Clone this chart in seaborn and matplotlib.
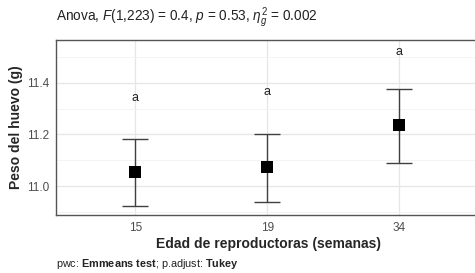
import numpy as np
import pandas as pd
import matplotlib
matplotlib.use("Agg")
import matplotlib.pyplot as plt
import seaborn as sns

# ── Data ─────────────────────────────────────────────────────
ages   = ["15", "19", "34"]
means  = [11.053, 11.072, 11.235]
lower  = [10.922, 10.940, 11.088]
upper  = [11.181, 11.200, 11.377]
letters = ["a", "a", "a"]
letter_y = [11.342, 11.363, 11.520]

sns.set_theme(style="whitegrid")
plt.rcParams["font.family"] = ["Liberation Sans", "DejaVu Sans"]
plt.rcParams["mathtext.fontset"] = "custom"
plt.rcParams["mathtext.rm"] = "Liberation Sans"
plt.rcParams["mathtext.it"] = "Liberation Sans:italic"
plt.rcParams["mathtext.bf"] = "Liberation Sans:bold"

df = pd.DataFrame({"edad": ages, "peso": means})

fig = plt.figure(figsize=(4.75, 2.73), dpi=100)
# panel runs past the right edge of the picture (cropped in the reference)
ax = fig.add_axes([56 / 475, 58 / 273, 424 / 475, 175 / 273])

# error bars first, then the square means on top
pos = np.arange(len(ages))
yerr = [np.array(means) - np.array(lower), np.array(upper) - np.array(means)]
ax.errorbar(pos, means, yerr=yerr, fmt="none", ecolor="#404040",
            elinewidth=1.0, capsize=9.5, capthick=1.0, zorder=2)
sns.scatterplot(data=df, x="edad", y="peso", marker="s", s=70,
                color="black", edgecolor="black", linewidth=0, ax=ax, zorder=3)

for i, (lab, yy) in enumerate(zip(letters, letter_y)):
    ax.text(i, yy, lab, ha="center", va="center", fontsize=9, color="#222222")

ax.set_xlim(-0.6, 2.61)
ax.set_ylim(10.888, 11.565)
ax.set_yticks([11.0, 11.2, 11.4])
ax.set_yticklabels(["11.0", "11.2", "11.4"])
ax.set_yticks([10.9, 11.1, 11.3, 11.5], minor=True)

# theme_bw-like grid and border
ax.grid(True, which="major", color="#e6e6e6", linewidth=0.9)
ax.grid(True, which="minor", axis="y", color="#f2f2f2", linewidth=0.6)
ax.set_axisbelow(True)
for sp in ax.spines.values():
    sp.set_color("#555555")
    sp.set_linewidth(1.0)
ax.spines["right"].set_visible(False)
ax.tick_params(axis="both", which="major", length=3, width=0.8, color="#555555",
               labelsize=8.5, labelcolor="#4d4d4d", pad=2)
ax.tick_params(axis="y", which="minor", length=0)

ax.set_xlabel("Edad de reproductoras (semanas)", fontsize=10, fontweight="bold",
              labelpad=2)
ax.set_ylabel("Peso del huevo (g)", fontsize=10, fontweight="bold", labelpad=3)

fig.text(56 / 475, 1 - 18 / 273,
         r"Anova, $\it{F}$(1,223) = 0.4, $\it{p}$ = 0.53, $\eta^2_g$ = 0.002",
         ha="left", va="center", fontsize=9.8, color="#222222")
fig.text(56 / 475, 1 - 264 / 273,
         r"pwc: $\bf{Emmeans\ test}$; p.adjust: $\bf{Tukey}$",
         ha="left", va="center", fontsize=7.8, color="#222222")

plt.savefig("out.png", dpi=100)
plt.close()
